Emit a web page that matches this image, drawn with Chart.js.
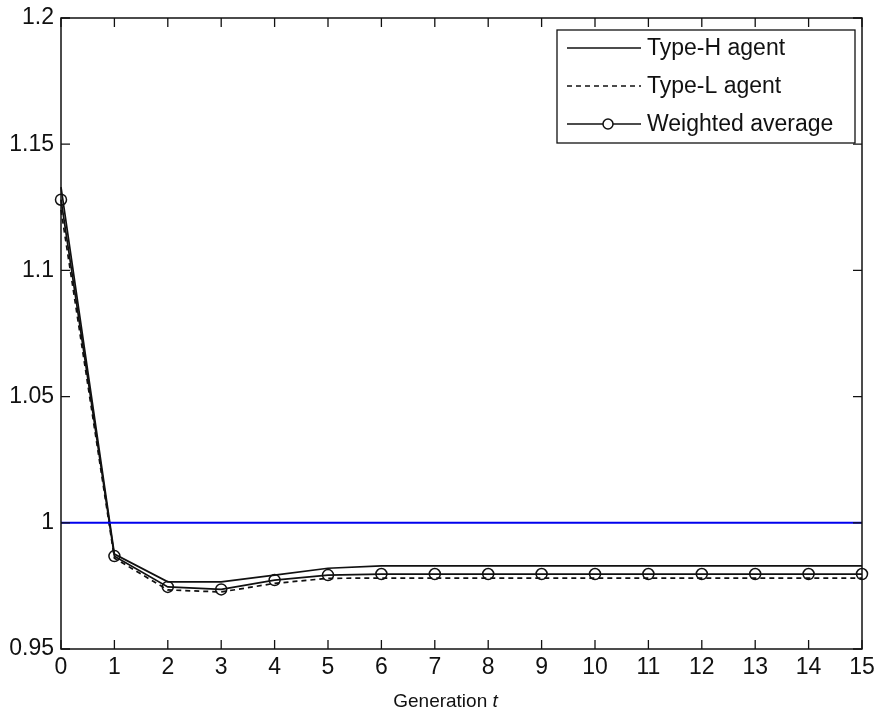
<!DOCTYPE html>
<html>
<head>
<meta charset="utf-8">
<script src="https://cdn.jsdelivr.net/npm/chart.js@4.4.1/dist/chart.umd.min.js"></script>
<style>
  html, body { margin: 0; padding: 0; background: #fff; }
  #wrap { width: 878px; height: 715px; position: relative; }
</style>
</head>
<body>
<div id="wrap"><canvas id="chartGen"></canvas></div>
<script>
const generations = ["0","1","2","3","4","5","6","7","8","9","10","11","12","13","14","15"];
const typeH = [1.133, 0.9876, 0.9766, 0.9766, 0.9793, 0.982, 0.9829, 0.9829, 0.9829, 0.9829, 0.9829, 0.9829, 0.9829, 0.9829, 0.9829, 0.9829];
const typeL = [1.124, 0.986, 0.9734, 0.9726, 0.976, 0.978, 0.9781, 0.9781, 0.9781, 0.9781, 0.9781, 0.9781, 0.9781, 0.9781, 0.9781, 0.9781];
const weighted = [1.128, 0.9868, 0.9746, 0.9736, 0.9773, 0.9793, 0.9797, 0.9797, 0.9797, 0.9797, 0.9797, 0.9797, 0.9797, 0.9797, 0.9797, 0.9797];
const reference = [1, 1, 1, 1, 1, 1, 1, 1, 1, 1, 1, 1, 1, 1, 1, 1];
const yTicks = [0.95, 1, 1.05, 1.1, 1.15, 1.2];

const FONT = "Liberation Sans, Arial, sans-serif";

// frame, inner ticks, x label and legend box like the matlab figure
const figurePlugin = {
    id: "figure",
    afterDraw(chart) {
        const ctx = chart.ctx;
        const a = chart.chartArea;
        const xs = chart.scales.x, ys = chart.scales.y;
        ctx.save();
        ctx.strokeStyle = "#111";
        ctx.lineWidth = 1.5;
        ctx.strokeRect(a.left, a.top, a.right - a.left, a.bottom - a.top);

        ctx.lineWidth = 1.3;
        ctx.beginPath();
        generations.forEach(function (g, i) {
            const px = xs.getPixelForValue(i);
            ctx.moveTo(px, a.bottom); ctx.lineTo(px, a.bottom - 9);
            ctx.moveTo(px, a.top); ctx.lineTo(px, a.top + 9);
        });
        yTicks.forEach(function (v) {
            const py = ys.getPixelForValue(v);
            ctx.moveTo(a.left, py); ctx.lineTo(a.left + 9, py);
            ctx.moveTo(a.right, py); ctx.lineTo(a.right - 9, py);
        });
        ctx.stroke();

        // x axis title "Generation t"
        ctx.fillStyle = "#111";
        ctx.textBaseline = "alphabetic";
        ctx.font = "19px " + FONT;
        const w1 = ctx.measureText("Generation ").width;
        ctx.font = "italic 19px " + FONT;
        const w2 = ctx.measureText("t").width;
        const cx = (a.left + a.right) / 2;
        let x0 = cx - (w1 + w2) / 2 - 16;
        ctx.font = "19px " + FONT;
        ctx.textAlign = "left";
        ctx.fillText("Generation ", x0, 707);
        ctx.font = "italic 19px " + FONT;
        ctx.fillText("t", x0 + w1, 707);

        // legend
        const lx = 557, ly = 30, lw = 298, lh = 113;
        ctx.fillStyle = "#fff";
        ctx.fillRect(lx, ly, lw, lh);
        ctx.lineWidth = 1.3;
        ctx.strokeStyle = "#111";
        ctx.strokeRect(lx, ly, lw, lh);
        const items = [
            { text: "Type-H agent", dash: [], marker: false },
            { text: "Type-L agent", dash: [5, 4], marker: false },
            { text: "Weighted average", dash: [], marker: true }
        ];
        ctx.font = "23px " + FONT;
        ctx.textBaseline = "middle";
        items.forEach(function (it, i) {
            const yy = ly + 18 + i * 38;
            ctx.setLineDash(it.dash);
            ctx.lineWidth = 1.5;
            ctx.beginPath();
            ctx.moveTo(lx + 10, yy); ctx.lineTo(lx + 84, yy);
            ctx.stroke();
            ctx.setLineDash([]);
            if (it.marker) {
                ctx.beginPath();
                ctx.arc(lx + 51, yy, 5, 0, Math.PI * 2);
                ctx.fillStyle = "#fff";
                ctx.fill();
                ctx.stroke();
            }
            ctx.fillStyle = "#111";
            ctx.fillText(it.text, lx + 90, yy + 1);
        });
        ctx.restore();
    }
};

new Chart(document.getElementById("chartGen"), {
    type: "line",
    data: {
        labels: generations,
        datasets: [
            {
                label: "1",
                data: reference,
                borderColor: "#0000ee",
                borderWidth: 2,
                pointRadius: 0
            },
            {
                label: "Type-H agent",
                data: typeH,
                borderColor: "#111",
                borderWidth: 1.7,
                pointRadius: 0
            },
            {
                label: "Type-L agent",
                data: typeL,
                borderColor: "#111",
                borderWidth: 1.7,
                borderDash: [5, 4],
                pointRadius: 0
            },
            {
                label: "Weighted average",
                data: weighted,
                borderColor: "#111",
                borderWidth: 1.7,
                pointRadius: 5.5,
                pointBorderWidth: 1.5,
                pointBackgroundColor: "rgba(255,255,255,0)",
                pointBorderColor: "#111"
            }
        ]
    },
    options: {
        responsive: true,
        maintainAspectRatio: false,
        animation: false,
        clip: false,
        layout: { padding: { top: 18, right: 16, left: 0, bottom: 0 } },
        plugins: {
            legend: { display: false },
            tooltip: { enabled: false }
        },
        elements: { line: { tension: 0 } },
        scales: {
            x: {
                offset: false,
                grid: { display: false, drawTicks: false },
                border: { display: false },
                ticks: {
                    color: "#111",
                    font: { family: FONT, size: 23 },
                    padding: 5,
                    maxRotation: 0,
                    autoSkip: false
                },
                afterFit: function (s) {
                    s.height = 66;
                    s.paddingLeft = 0; s.paddingRight = 0;
                }
            },
            y: {
                min: 0.95,
                max: 1.2,
                grid: { display: false, drawTicks: false },
                border: { display: false },
                afterBuildTicks: function (s) {
                    s.ticks = yTicks.map(function (v) { return { value: v }; });
                },
                ticks: {
                    color: "#111",
                    font: { family: FONT, size: 23 },
                    padding: 7,
                    callback: function (v) { return String(Math.round(v * 100) / 100); }
                },
                afterFit: function (s) {
                    s.width = 61;
                    s.paddingTop = 0; s.paddingBottom = 0;
                }
            }
        }
    },
    plugins: [figurePlugin]
});
</script>
</body>
</html>
